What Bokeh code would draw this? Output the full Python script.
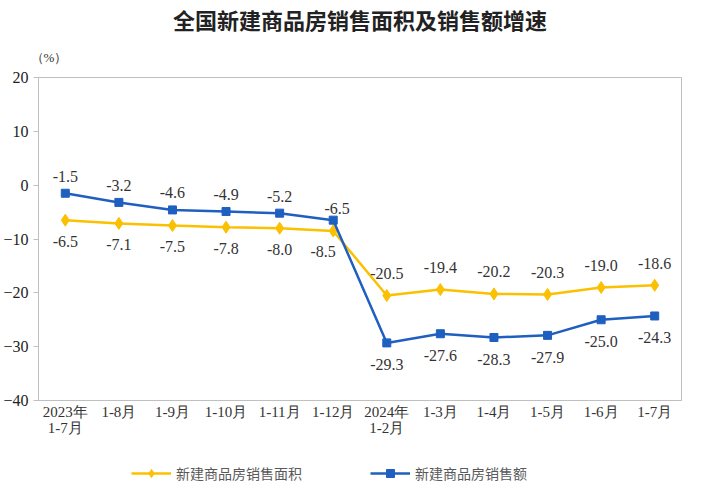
from bokeh.plotting import figure
from bokeh.layouts import column
from bokeh.models import (ColumnDataSource, Legend, LegendItem, FixedTicker, Title, Range1d)
from bokeh.core.properties import value
from bokeh.embed import file_html
from bokeh.resources import INLINE

categories = ["2023年\n1-7月", "1-8月", "1-9月", "1-10月", "1-11月", "1-12月",
              "2024年\n1-2月", "1-3月", "1-4月", "1-5月", "1-6月", "1-7月"]
area = [-6.5, -7.1, -7.5, -7.8, -8.0, -8.5, -20.5, -19.4, -20.2, -20.3, -19.0, -18.6]
sales = [-1.5, -3.2, -4.6, -4.9, -5.2, -6.5, -29.3, -27.6, -28.3, -27.9, -25.0, -24.3]
y_ticks = [-40, -30, -20, -10, 0, 10, 20]
series_names = ["新建商品房销售面积", "新建商品房销售额"]

YELLOW = "#FBC000"
BLUE = "#1F5FBF"
SERIF = "Liberation Serif"

p = figure(width=687, height=448, x_range=categories, y_range=Range1d(-40, 20),
           output_backend="svg", toolbar_location=None,
           min_border_left=29, min_border_right=6, min_border_top=77, min_border_bottom=48)

# main title (outermost)
p.title.text = "全国新建商品房销售面积及销售额增速"
p.title.align = "center"
p.title.text_font = "Noto Sans CJK SC"
p.title.text_font_size = "22px"
p.title.text_font_style = "bold"
p.title.text_color = "#222222"
p.title.standoff = 1

# unit label (inner)
unit = Title(text="（%）", align="left", text_font=SERIF, text_font_size="13px",
             text_font_style="normal", text_color="#333333", offset=-8, standoff=25)
p.add_layout(unit, "above")

p.outline_line_color = "#BFBFBF"
p.outline_line_width = 1
p.xgrid.grid_line_color = None
p.ygrid.grid_line_color = None

# y axis
p.yaxis.ticker = FixedTicker(ticks=y_ticks)
p.yaxis.axis_line_color = "#BFBFBF"
p.yaxis.major_tick_line_color = "#BFBFBF"
p.yaxis.major_tick_out = 5
p.yaxis.major_tick_in = 0
p.yaxis.minor_tick_line_color = None
p.yaxis.major_label_text_font = SERIF
p.yaxis.major_label_text_font_size = "16px"
p.yaxis.major_label_text_color = "#222222"
p.yaxis.major_label_standoff = 5

# x axis
p.xaxis.axis_line_color = "#BFBFBF"
p.xaxis.major_tick_line_color = None
p.xaxis.major_tick_out = 0
p.xaxis.major_tick_in = 0
p.xaxis.minor_tick_line_color = "#BFBFBF"
p.xaxis.minor_tick_in = 5
p.xaxis.minor_tick_out = 0
p.xaxis.major_label_text_font = SERIF
p.xaxis.major_label_text_font_size = "15px"
p.xaxis.major_label_text_color = "#333333"
p.xaxis.major_label_text_line_height = 1.0
p.xaxis.major_label_standoff = 3

src = ColumnDataSource(dict(x=categories, area=area, sales=sales))

line_a = dict(line_color=YELLOW, line_width=2.5)
mark_a = dict(marker="diamond", size=12, fill_color=YELLOW, line_color=YELLOW)
line_b = dict(line_color=BLUE, line_width=2.5)
mark_b = dict(marker="square", size=8, fill_color=BLUE, line_color=BLUE)

p.line("x", "area", source=src, **line_a)
p.scatter("x", "area", source=src, **mark_a)
p.line("x", "sales", source=src, **line_b)
p.scatter("x", "sales", source=src, **mark_b)

# data labels
def fmt(vals):
    return ["%.1f" % v for v in vals]

n1 = 5   # 2023 points with standard label placement
n2 = 6   # start of 2024 points
g1 = ColumnDataSource(dict(x=categories[:n1], a=area[:n1], s=sales[:n1],
                           al=fmt(area[:n1]), sl=fmt(sales[:n1])))
g_mid = ColumnDataSource(dict(x=categories[n1:n2], a=area[n1:n2], s=sales[n1:n2],
                              al=fmt(area[n1:n2]), sl=fmt(sales[n1:n2])))
g2 = ColumnDataSource(dict(x=categories[n2:], a=area[n2:], s=sales[n2:],
                           al=fmt(area[n2:]), sl=fmt(sales[n2:])))

lbl_kw = dict(text_font=value(SERIF), text_font_size="16px",
              text_color="#333333", text_align="center", text_baseline="middle")
p.text("x", "s", text="sl", source=g1, y_offset=-17, **lbl_kw)
p.text("x", "a", text="al", source=g1, y_offset=21, **lbl_kw)
p.text("x", "s", text="sl", source=g_mid, x_offset=4, y_offset=-12, **lbl_kw)
p.text("x", "a", text="al", source=g_mid, x_offset=-10, y_offset=21, **lbl_kw)
p.text("x", "a", text="al", source=g2, y_offset=-22, **lbl_kw)
p.text("x", "s", text="sl", source=g2, y_offset=22, **lbl_kw)

# legend strip below the chart: same series, drawn outside its visible y-range
q = figure(width=687, height=43, output_backend="svg", toolbar_location=None,
           x_range=p.x_range, y_range=Range1d(100, 101),
           x_axis_location=None, y_axis_location=None,
           min_border_left=0, min_border_right=0, min_border_top=0, min_border_bottom=0)
q.outline_line_color = None
q.xgrid.grid_line_color = None
q.ygrid.grid_line_color = None
q.background_fill_alpha = 0
q.border_fill_alpha = 0
ra1 = q.line("x", "area", source=src, **line_a)
ra2 = q.scatter("x", "area", source=src, **dict(mark_a, size=9))
rb1 = q.line("x", "sales", source=src, **line_b)
rb2 = q.scatter("x", "sales", source=src, **dict(mark_b, size=7))

legend = Legend(items=[LegendItem(label=series_names[0], renderers=[ra1, ra2]),
                       LegendItem(label=series_names[1], renderers=[rb1, rb2])],
                orientation="horizontal", location=(93, 8),
                label_text_font="Noto Sans CJK SC", label_text_font_size="14px",
                label_text_color="#595959", glyph_width=40, spacing=68,
                background_fill_alpha=0, border_line_color=None, label_standoff=5,
                margin=0, padding=4)
q.add_layout(legend, "center")

open("out.html", "w").write(file_html(column(p, q, spacing=0), INLINE))
